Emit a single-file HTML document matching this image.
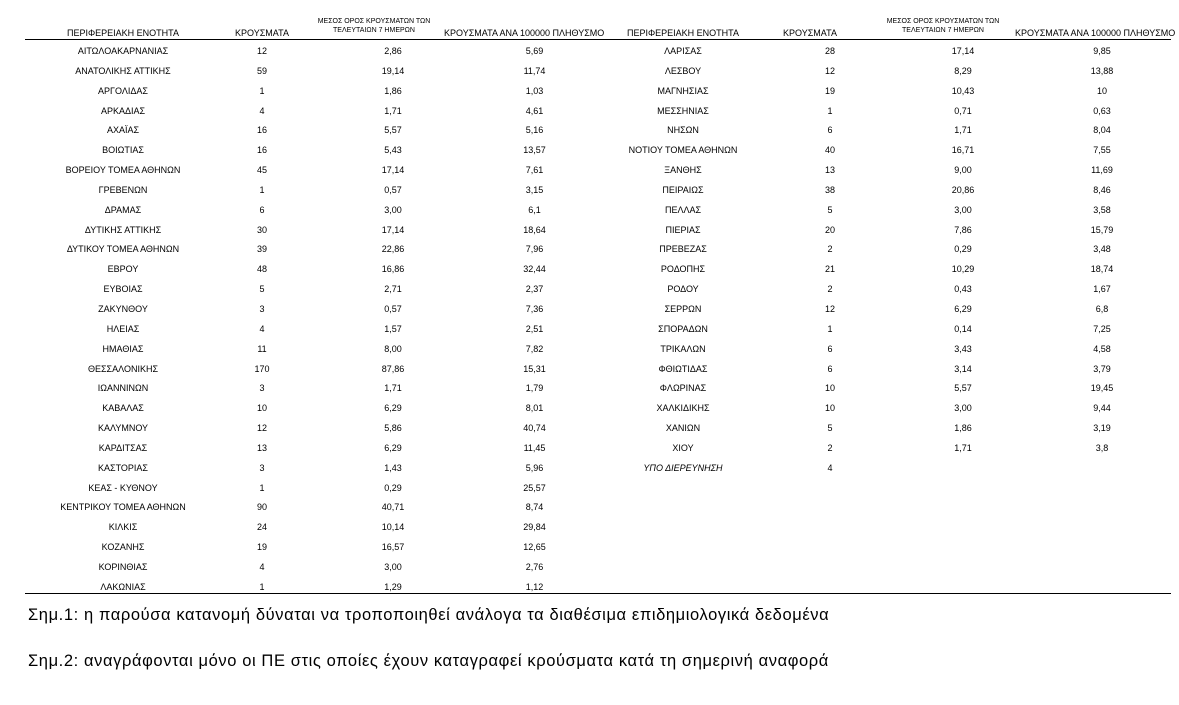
<!DOCTYPE html>
<html><head><meta charset="utf-8"><style>
body{margin:0;width:1179px;height:705px;background:#fff;position:relative;overflow:hidden;font-family:"Liberation Sans","DejaVu Sans",sans-serif;color:#000}
.t{position:absolute;border-collapse:collapse;font-size:9px;table-layout:fixed}
.t td{height:19.85px;padding:0;text-align:center;white-space:nowrap;line-height:19.85px}
.h{position:absolute;font-size:9px;text-align:center;white-space:nowrap}
.hs{font-size:7px;line-height:9px}
.line{position:absolute;left:25px;width:1146px;height:1px;background:#000}
.note{position:absolute;left:28px;font-size:16.5px;letter-spacing:0.6px;white-space:nowrap}
</style></head><body>
<div class="h" style="left:43px;width:160px;top:28px">ΠΕΡΙΦΕΡΕΙΑΚΗ ΕΝΟΤΗΤΑ</div>
<div class="h" style="left:222px;width:80px;top:28px">ΚΡΟΥΣΜΑΤΑ</div>
<div class="h hs" style="left:314px;width:120px;top:17px">ΜΕΣΟΣ ΟΡΟΣ ΚΡΟΥΣΜΑΤΩΝ ΤΩΝ<br>ΤΕΛΕΥΤΑΙΩΝ 7 ΗΜΕΡΩΝ</div>
<div class="h" style="left:444px;width:160px;top:28px">ΚΡΟΥΣΜΑΤΑ ΑΝΑ 100000 ΠΛΗΘΥΣΜΟ</div>
<div class="h" style="left:603px;width:160px;top:28px">ΠΕΡΙΦΕΡΕΙΑΚΗ ΕΝΟΤΗΤΑ</div>
<div class="h" style="left:770px;width:80px;top:28px">ΚΡΟΥΣΜΑΤΑ</div>
<div class="h hs" style="left:883px;width:120px;top:17px">ΜΕΣΟΣ ΟΡΟΣ ΚΡΟΥΣΜΑΤΩΝ ΤΩΝ<br>ΤΕΛΕΥΤΑΙΩΝ 7 ΗΜΕΡΩΝ</div>
<div class="h" style="left:1015px;width:160px;top:28px">ΚΡΟΥΣΜΑΤΑ ΑΝΑ 100000 ΠΛΗΘΥΣΜΟ</div>
<div class="line" style="top:39px"></div>
<table class="t" style="left:43px;top:42px;width:561px">
<colgroup><col style="width:160px"><col style="width:118px"><col style="width:144px"><col style="width:139px"></colgroup>
<tr><td>ΑΙΤΩΛΟΑΚΑΡΝΑΝΙΑΣ</td><td>12</td><td>2,86</td><td>5,69</td></tr>
<tr><td>ΑΝΑΤΟΛΙΚΗΣ ΑΤΤΙΚΗΣ</td><td>59</td><td>19,14</td><td>11,74</td></tr>
<tr><td>ΑΡΓΟΛΙΔΑΣ</td><td>1</td><td>1,86</td><td>1,03</td></tr>
<tr><td>ΑΡΚΑΔΙΑΣ</td><td>4</td><td>1,71</td><td>4,61</td></tr>
<tr><td>ΑΧΑΪΑΣ</td><td>16</td><td>5,57</td><td>5,16</td></tr>
<tr><td>ΒΟΙΩΤΙΑΣ</td><td>16</td><td>5,43</td><td>13,57</td></tr>
<tr><td>ΒΟΡΕΙΟΥ ΤΟΜΕΑ ΑΘΗΝΩΝ</td><td>45</td><td>17,14</td><td>7,61</td></tr>
<tr><td>ΓΡΕΒΕΝΩΝ</td><td>1</td><td>0,57</td><td>3,15</td></tr>
<tr><td>ΔΡΑΜΑΣ</td><td>6</td><td>3,00</td><td>6,1</td></tr>
<tr><td>ΔΥΤΙΚΗΣ ΑΤΤΙΚΗΣ</td><td>30</td><td>17,14</td><td>18,64</td></tr>
<tr><td>ΔΥΤΙΚΟΥ ΤΟΜΕΑ ΑΘΗΝΩΝ</td><td>39</td><td>22,86</td><td>7,96</td></tr>
<tr><td>ΕΒΡΟΥ</td><td>48</td><td>16,86</td><td>32,44</td></tr>
<tr><td>ΕΥΒΟΙΑΣ</td><td>5</td><td>2,71</td><td>2,37</td></tr>
<tr><td>ΖΑΚΥΝΘΟΥ</td><td>3</td><td>0,57</td><td>7,36</td></tr>
<tr><td>ΗΛΕΙΑΣ</td><td>4</td><td>1,57</td><td>2,51</td></tr>
<tr><td>ΗΜΑΘΙΑΣ</td><td>11</td><td>8,00</td><td>7,82</td></tr>
<tr><td>ΘΕΣΣΑΛΟΝΙΚΗΣ</td><td>170</td><td>87,86</td><td>15,31</td></tr>
<tr><td>ΙΩΑΝΝΙΝΩΝ</td><td>3</td><td>1,71</td><td>1,79</td></tr>
<tr><td>ΚΑΒΑΛΑΣ</td><td>10</td><td>6,29</td><td>8,01</td></tr>
<tr><td>ΚΑΛΥΜΝΟΥ</td><td>12</td><td>5,86</td><td>40,74</td></tr>
<tr><td>ΚΑΡΔΙΤΣΑΣ</td><td>13</td><td>6,29</td><td>11,45</td></tr>
<tr><td>ΚΑΣΤΟΡΙΑΣ</td><td>3</td><td>1,43</td><td>5,96</td></tr>
<tr><td>ΚΕΑΣ - ΚΥΘΝΟΥ</td><td>1</td><td>0,29</td><td>25,57</td></tr>
<tr><td>ΚΕΝΤΡΙΚΟΥ ΤΟΜΕΑ ΑΘΗΝΩΝ</td><td>90</td><td>40,71</td><td>8,74</td></tr>
<tr><td>ΚΙΛΚΙΣ</td><td>24</td><td>10,14</td><td>29,84</td></tr>
<tr><td>ΚΟΖΑΝΗΣ</td><td>19</td><td>16,57</td><td>12,65</td></tr>
<tr><td>ΚΟΡΙΝΘΙΑΣ</td><td>4</td><td>3,00</td><td>2,76</td></tr>
<tr><td>ΛΑΚΩΝΙΑΣ</td><td>1</td><td>1,29</td><td>1,12</td></tr>
</table>
<table class="t" style="left:603px;top:42px;width:572px">
<colgroup><col style="width:160px"><col style="width:134px"><col style="width:132px"><col style="width:146px"></colgroup>
<tr><td>ΛΑΡΙΣΑΣ</td><td>28</td><td>17,14</td><td>9,85</td></tr>
<tr><td>ΛΕΣΒΟΥ</td><td>12</td><td>8,29</td><td>13,88</td></tr>
<tr><td>ΜΑΓΝΗΣΙΑΣ</td><td>19</td><td>10,43</td><td>10</td></tr>
<tr><td>ΜΕΣΣΗΝΙΑΣ</td><td>1</td><td>0,71</td><td>0,63</td></tr>
<tr><td>ΝΗΣΩΝ</td><td>6</td><td>1,71</td><td>8,04</td></tr>
<tr><td>ΝΟΤΙΟΥ ΤΟΜΕΑ ΑΘΗΝΩΝ</td><td>40</td><td>16,71</td><td>7,55</td></tr>
<tr><td>ΞΑΝΘΗΣ</td><td>13</td><td>9,00</td><td>11,69</td></tr>
<tr><td>ΠΕΙΡΑΙΩΣ</td><td>38</td><td>20,86</td><td>8,46</td></tr>
<tr><td>ΠΕΛΛΑΣ</td><td>5</td><td>3,00</td><td>3,58</td></tr>
<tr><td>ΠΙΕΡΙΑΣ</td><td>20</td><td>7,86</td><td>15,79</td></tr>
<tr><td>ΠΡΕΒΕΖΑΣ</td><td>2</td><td>0,29</td><td>3,48</td></tr>
<tr><td>ΡΟΔΟΠΗΣ</td><td>21</td><td>10,29</td><td>18,74</td></tr>
<tr><td>ΡΟΔΟΥ</td><td>2</td><td>0,43</td><td>1,67</td></tr>
<tr><td>ΣΕΡΡΩΝ</td><td>12</td><td>6,29</td><td>6,8</td></tr>
<tr><td>ΣΠΟΡΑΔΩΝ</td><td>1</td><td>0,14</td><td>7,25</td></tr>
<tr><td>ΤΡΙΚΑΛΩΝ</td><td>6</td><td>3,43</td><td>4,58</td></tr>
<tr><td>ΦΘΙΩΤΙΔΑΣ</td><td>6</td><td>3,14</td><td>3,79</td></tr>
<tr><td>ΦΛΩΡΙΝΑΣ</td><td>10</td><td>5,57</td><td>19,45</td></tr>
<tr><td>ΧΑΛΚΙΔΙΚΗΣ</td><td>10</td><td>3,00</td><td>9,44</td></tr>
<tr><td>ΧΑΝΙΩΝ</td><td>5</td><td>1,86</td><td>3,19</td></tr>
<tr><td>ΧΙΟΥ</td><td>2</td><td>1,71</td><td>3,8</td></tr>
<tr><td style="font-style:italic">ΥΠΟ ΔΙΕΡΕΥΝΗΣΗ</td><td>4</td><td></td><td></td></tr>
</table>
<div class="line" style="top:593px"></div>
<div class="note" style="top:606px">Σημ.1: η παρούσα κατανομή δύναται να τροποποιηθεί ανάλογα τα διαθέσιμα επιδημιολογικά δεδομένα</div>
<div class="note" style="top:652px">Σημ.2: αναγράφονται μόνο οι ΠΕ στις οποίες έχουν καταγραφεί κρούσματα κατά τη σημερινή αναφορά</div>
</body></html>
